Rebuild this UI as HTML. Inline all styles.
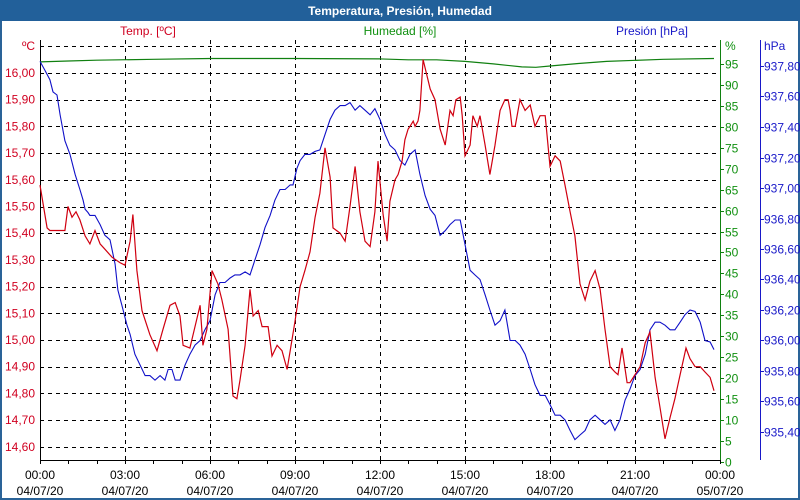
<!DOCTYPE html>
<html><head><meta charset="utf-8"><style>
body{margin:0;background:#fff;font-family:"Liberation Sans",sans-serif}
#wrap{position:relative;width:800px;height:500px;overflow:hidden}
</style></head><body>
<div id="wrap">
<svg id="chart" width="800" height="500" xmlns="http://www.w3.org/2000/svg" font-family="Liberation Sans, sans-serif" font-size="12">
<rect x="0" y="0" width="800" height="500" fill="#fff"/>
<rect x="1" y="1" width="798" height="498" fill="none" stroke="#2a6398" stroke-width="2"/>
<rect x="0" y="0" width="800" height="21" fill="#22609a"/>
<text x="400" y="15" text-anchor="middle" fill="#fff" font-weight="bold">Temperatura, Presión, Humedad</text>
<text x="148" y="35" text-anchor="middle" fill="#d00020">Temp. [ºC]</text>
<text x="400" y="35" text-anchor="middle" fill="#109010">Humedad [%]</text>
<text x="652" y="35" text-anchor="middle" fill="#1818c8">Presión [hPa]</text>
<g id="grid"></g><g id="axes"></g><g id="series"></g>
</svg>
</div>
<script>
// ---- data ----
const tempTimes=[0,0.25,0.35,0.71,0.88,0.99,1.13,1.27,1.41,1.59,1.76,1.94,2.12,2.29,2.54,2.82,3.00,3.18,3.28,3.42,3.60,3.88,4.13,4.34,4.59,4.77,4.94,5.05,5.29,5.47,5.65,5.75,5.89,6.07,6.28,6.42,6.64,6.81,6.95,7.06,7.24,7.41,7.52,7.70,7.84,8.05,8.19,8.37,8.54,8.72,8.83,9.00,9.18,9.35,9.53,9.71,9.88,10.06,10.24,10.34,10.59,10.77,10.94,11.12,11.29,11.47,11.65,11.82,11.93,12.11,12.25,12.35,12.53,12.64,12.78,12.88,12.99,13.06,13.17,13.24,13.34,13.41,13.52,13.77,13.94,14.12,14.30,14.47,14.58,14.68,14.83,14.90,15.00,15.18,15.28,15.43,15.53,15.71,15.88,16.06,16.24,16.41,16.52,16.59,16.66,16.77,16.94,17.12,17.30,17.47,17.65,17.83,18.00,18.18,18.36,18.53,18.71,18.88,19.06,19.24,19.41,19.59,19.77,19.94,20.12,20.29,20.40,20.54,20.72,20.82,21.00,21.18,21.36,21.53,21.71,21.88,22.06,22.24,22.41,22.59,22.80,22.94,23.12,23.30,23.47,23.65,23.79];
const tempValues=[15.58,15.42,15.41,15.41,15.41,15.50,15.46,15.48,15.45,15.39,15.36,15.41,15.36,15.34,15.31,15.29,15.28,15.37,15.47,15.26,15.11,15.02,14.96,15.04,15.13,15.14,15.09,14.98,14.97,15.05,15.13,14.98,15.04,15.26,15.21,15.15,15.04,14.79,14.78,14.85,14.98,15.19,15.09,15.11,15.05,15.05,14.94,14.98,14.96,14.89,14.96,15.07,15.20,15.26,15.33,15.46,15.55,15.72,15.61,15.42,15.40,15.37,15.50,15.65,15.48,15.37,15.35,15.48,15.67,15.47,15.37,15.52,15.60,15.62,15.67,15.75,15.79,15.80,15.82,15.80,15.82,15.86,16.05,15.94,15.90,15.79,15.73,15.86,15.84,15.90,15.91,15.84,15.69,15.73,15.84,15.80,15.84,15.73,15.62,15.73,15.86,15.90,15.90,15.86,15.80,15.80,15.90,15.86,15.88,15.80,15.84,15.84,15.65,15.69,15.67,15.58,15.48,15.39,15.21,15.15,15.22,15.26,15.19,15.04,14.90,14.88,14.87,14.97,14.84,14.84,14.87,14.90,14.99,15.03,14.86,14.75,14.63,14.71,14.78,14.87,14.97,14.93,14.90,14.90,14.88,14.86,14.81];
const presTimes=[0,0.18,0.35,0.46,0.60,0.71,0.88,1.06,1.24,1.41,1.52,1.59,1.69,1.76,1.94,2.12,2.29,2.47,2.65,2.75,2.89,3.07,3.18,3.35,3.53,3.71,3.88,4.06,4.24,4.41,4.52,4.66,4.77,4.94,5.12,5.29,5.47,5.65,5.82,6.00,6.18,6.35,6.53,6.71,6.88,7.06,7.24,7.41,7.59,7.77,7.94,8.12,8.29,8.47,8.65,8.83,8.93,9.07,9.18,9.35,9.53,9.71,9.88,10.06,10.24,10.41,10.59,10.77,10.94,11.12,11.29,11.47,11.65,11.82,12.00,12.18,12.35,12.53,12.71,12.88,13.06,13.24,13.41,13.59,13.77,13.94,14.12,14.30,14.47,14.65,14.83,15.00,15.18,15.35,15.53,15.71,15.88,16.06,16.24,16.41,16.59,16.77,16.94,17.12,17.30,17.47,17.65,17.83,18.00,18.18,18.36,18.53,18.71,18.88,19.06,19.24,19.41,19.59,19.77,19.94,20.12,20.29,20.47,20.65,20.82,21.00,21.18,21.36,21.53,21.71,21.88,22.06,22.24,22.41,22.59,22.77,22.94,23.12,23.30,23.47,23.65,23.79];
const presValues=[937.83,937.77,937.71,937.63,937.61,937.48,937.31,937.22,937.09,936.99,936.92,936.86,936.84,936.82,936.82,936.76,936.69,936.66,936.50,936.33,936.23,936.10,936.04,935.91,935.84,935.77,935.77,935.74,935.77,935.74,935.81,935.81,935.74,935.74,935.84,935.91,935.97,936.00,936.07,936.13,936.30,936.38,936.38,936.41,936.43,936.43,936.45,936.43,936.53,936.63,936.74,936.82,936.92,936.99,936.99,937.02,937.02,937.13,937.18,937.22,937.22,937.24,937.25,937.35,937.45,937.51,937.54,937.54,937.56,937.51,937.54,937.51,937.48,937.52,937.45,937.35,937.28,937.25,937.18,937.15,937.22,937.25,937.09,936.95,936.86,936.82,936.69,936.72,936.76,936.79,936.79,936.63,936.46,936.43,936.40,936.30,936.20,936.10,936.13,936.20,936.00,936.00,935.97,935.91,935.81,935.71,935.64,935.64,935.58,935.51,935.51,935.48,935.41,935.35,935.38,935.41,935.48,935.51,935.48,935.45,935.48,935.41,935.48,935.61,935.68,935.77,935.81,935.91,936.07,936.12,936.12,936.10,936.07,936.07,936.12,936.17,936.20,936.19,936.12,936.00,935.99,935.94];
const humTimes=[0,1,2,4,6,9,12,13,14,15,16,17,17.5,18,19,20,22,23.79];
const humValues=[95.5,95.7,95.9,96.1,96.3,96.3,96.2,96.0,96.0,95.6,95.0,94.3,94.2,94.5,95.1,95.6,96.1,96.3];
const tempTicks=["14,60","14,70","14,80","14,90","15,00","15,10","15,20","15,30","15,40","15,50","15,60","15,70","15,80","15,90","16,00"];
const humTicks=[0,5,10,15,20,25,30,35,40,45,50,55,60,65,70,75,80,85,90,95];
const presTicks=["935,40","935,60","935,80","936,00","936,20","936,40","936,60","936,80","937,00","937,20","937,40","937,60","937,80"];
const timeTicks=["00:00","03:00","06:00","09:00","12:00","15:00","18:00","21:00","00:00"];
const dateTicks=["04/07/20","04/07/20","04/07/20","04/07/20","04/07/20","04/07/20","04/07/20","04/07/20","05/07/20"];

// ---- scales ----
const X0=40,X1=720,YB=460;
const xs=h=>X0+h*(X1-X0)/24;
const yT=t=>73+(16-t)*267;
const yH=v=>462-v*4.19;
const yP=p=>66+(937.8-p)*152.5;
const NS="http://www.w3.org/2000/svg";
function mk(tag,attrs,parent,txt){const e=document.createElementNS(NS,tag);for(const k in attrs)e.setAttribute(k,attrs[k]);if(txt!==undefined)e.textContent=txt;parent.appendChild(e);return e;}
const grid=document.getElementById('grid'),axes=document.getElementById('axes'),series=document.getElementById('series');

// horizontal grid (temp)
for(let i=0;i<=15;i++){const t=14.6+i*0.1;const y=Math.round(yT(t))+0.5;
 const l=mk('line',{x1:X0,x2:X1,y1:y,y2:y,stroke:'#000','stroke-dasharray':'4,4'},grid);
 
 }
for(let k=1;k<8;k++){const x=Math.round(xs(k*3))+0.5;
 const l=mk('line',{x1:x,x2:x,y1:40,y2:YB,stroke:'#000','stroke-dasharray':'4,4'},grid);
 
 }

// axes
mk('line',{x1:X0+0.5,x2:X0+0.5,y1:40,y2:YB,stroke:'#000'},axes);
mk('line',{x1:X0,x2:X1,y1:YB+0.5,y2:YB+0.5,stroke:'#000'},axes);
mk('line',{x1:X1+0.5,x2:X1+0.5,y1:40,y2:YB,stroke:'#108010'},axes);
mk('line',{x1:760.5,x2:760.5,y1:40,y2:YB,stroke:'#1818c8'},axes);
tempTicks.forEach((s,i)=>{const y=yT(14.6+i*0.1);
 const t=mk('text',{x:35,y:y+4,'text-anchor':'end',fill:'#d00020'},axes,s);
 
 });
mk('text',{x:35,y:50,'text-anchor':'end',fill:'#d00020'},axes,'ºC');
humTicks.forEach(v=>{const y=Math.round(yH(v))+0.5;
 mk('line',{x1:X1,x2:X1+4,y1:y,y2:y,stroke:'#108010'},axes);
 const t=mk('text',{x:725,y:y+4,fill:'#109010'},axes,String(v));
 
 });
mk('text',{x:725,y:50,fill:'#109010'},axes,'%');
presTicks.forEach((s,i)=>{const y=Math.round(yP(935.4+i*0.2))+0.5;
 mk('line',{x1:760,x2:764,y1:y,y2:y,stroke:'#1818c8'},axes);
 const t=mk('text',{x:764,y:y+4,fill:'#1818c8'},axes,s);
 
 });
mk('text',{x:764,y:50,fill:'#1818c8'},axes,'hPa');
for(let h=0;h<=24;h++){const x=Math.round(xs(h))+0.5;mk('line',{x1:x,x2:x,y1:YB,y2:YB+4,stroke:'#000'},axes);}
timeTicks.forEach((s,i)=>{const x=xs(i*3);
 const t=mk('text',{x:x,y:479,'text-anchor':'middle',fill:'#000'},axes,s);
 
 
 const d=mk('text',{x:x,y:495,'text-anchor':'middle',fill:'#000'},axes,dateTicks[i]);
 
 });

// series
function path(ts,vs,yf){return ts.map((t,i)=>(i?'L':'M')+xs(t).toFixed(1)+','+yf(vs[i]).toFixed(1)).join('');}
const hp=mk('path',{d:path(humTimes,humValues,yH),fill:'none',stroke:'#108010','stroke-width':1.2},series);


const pp=mk('path',{d:path(presTimes,presValues,yP),fill:'none',stroke:'#1010c8','stroke-width':1.1},series);


const tp=mk('path',{d:path(tempTimes,tempValues,yT),fill:'none',stroke:'#d00010','stroke-width':1.2},series);


</script>
</body></html>
